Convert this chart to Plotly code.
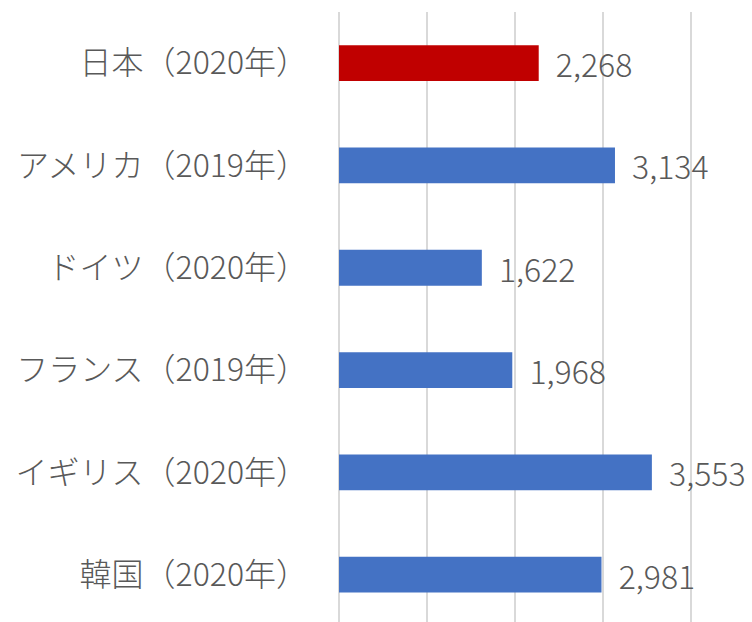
import plotly.graph_objects as go

categories = ["日本（2020年）", "アメリカ（2019年）", "ドイツ（2020年）", "フランス（2019年）", "イギリス（2020年）", "韓国（2020年）"]
values = [2268, 3134, 1622, 1968, 3553, 2981]
colors = ["#C00000", "#4472C4", "#4472C4", "#4472C4", "#4472C4", "#4472C4"]

FONT = "Noto Sans CJK JP"

fig = go.Figure(go.Bar(
    x=values,
    y=categories,
    orientation="h",
    marker=dict(color=colors, line=dict(width=0)),
    width=0.35,
    text=[f"{v:,}" for v in values],
    texttemplate="  %{text}",
    textposition="outside",
    textfont=dict(family=FONT, size=32, color="#595959", weight=300),
    cliponaxis=False,
    constraintext="none",
))

fig.update_layout(
    width=752, height=622,
    margin=dict(l=339, r=59, t=12, b=0),
    paper_bgcolor="white",
    plot_bgcolor="white",
    showlegend=False,
    xaxis=dict(
        range=[0, 4020], dtick=1000, tick0=0,
        showticklabels=False, showgrid=True, gridcolor="#D9D9D9", gridwidth=1.5,
        zeroline=True, zerolinecolor="#D9D9D9", zerolinewidth=1.5, showline=False,
    ),
    yaxis=dict(
        categoryorder="array", categoryarray=categories,
        range=[5.463, -0.5],
        showgrid=False, zeroline=False, showline=False,
        tickfont=dict(family=FONT, size=32, color="#595959", weight=300),
        ticklabelstandoff=30,
    ),
)

fig.write_html("out.html", config={"displayModeBar": False})
with open("out.html", encoding="utf-8") as f:
    html = f.read()
html = html.replace("<body>", '<body style="margin:0;padding:0;overflow:hidden">', 1)
with open("out.html", "w", encoding="utf-8") as f:
    f.write(html)
